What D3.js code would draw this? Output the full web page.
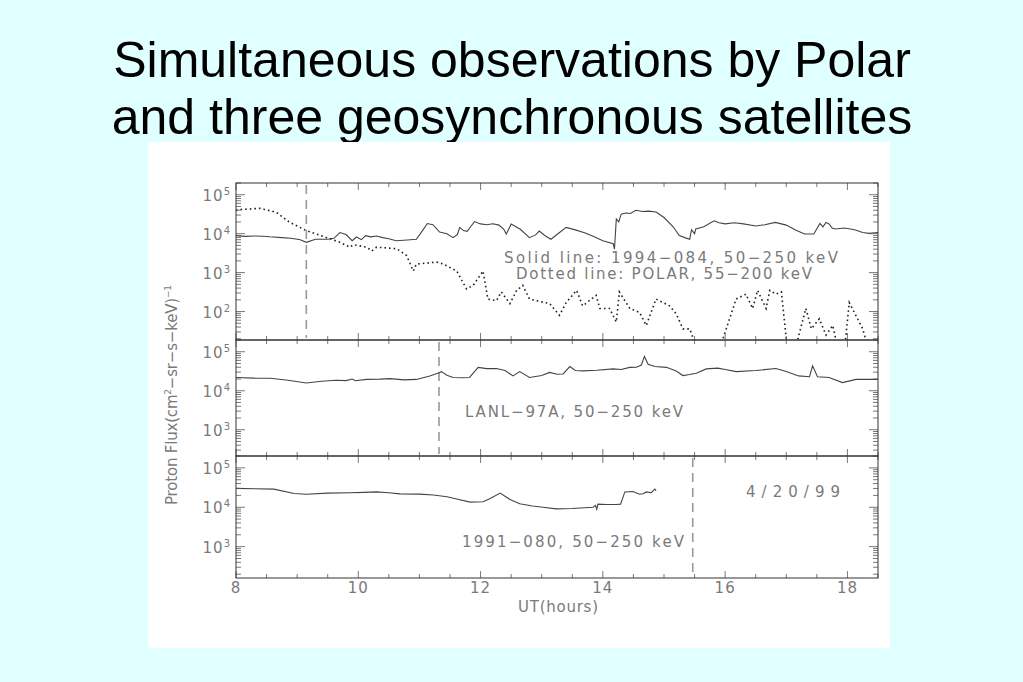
<!DOCTYPE html>
<html><head><meta charset="utf-8">
<script src="https://cdn.jsdelivr.net/npm/d3@7"></script>
<style>
html,body{margin:0;padding:0;background:#e0ffff;}
svg{display:block;}
</style></head>
<body>
<svg id="c" width="1023" height="682"></svg>
<script>
// ---- data ----
const titleLines = ["Simultaneous observations by Polar", "and three geosynchronous satellites"];
const xTicks = [8, 10, 12, 14, 16, 18];

// Top panel: 1994-084 solid (50-250 keV)
const hrs1994 = [8.0,8.15,8.3,8.45,8.55,8.75,8.9,9.05,9.15,9.3,9.5,9.6,9.7,9.8,9.9,9.97,10.05,10.12,10.2,10.3,10.4,10.5,10.62,10.8,10.95,11.05,11.13,11.22,11.33,11.45,11.55,11.62,11.66,11.72,11.78,11.85,11.9,12.0,12.1,12.2,12.3,12.38,12.42,12.47,12.5,12.65,12.8,12.9,12.96,13.05,13.15,13.25,13.4,13.55,13.7,13.85,14.0,14.17,14.19,14.22,14.26,14.3,14.38,14.45,14.54,14.65,14.75,14.87,15.0,15.15,15.25,15.35,15.42,15.45,15.5,15.52,15.65,15.82,15.9,16.0,16.15,16.3,16.5,16.65,16.82,17.0,17.15,17.3,17.45,17.55,17.6,17.65,17.7,17.75,17.8,17.95,18.05,18.13,18.25,18.35,18.5];
const flux1994 = [8900,8500,8700,8600,8300,7900,7600,7000,6000,7200,7200,7600,10700,9500,6600,8200,7000,8900,8300,8700,7900,7400,6600,6900,7200,12000,18200,17000,11000,10000,7900,9500,14500,12000,11500,16000,20400,17800,17000,18000,16600,13000,9800,14000,17800,13000,7900,9300,11700,9000,7200,9500,14500,12500,10500,8500,6600,5500,4000,24000,20000,31600,34000,33000,39800,37000,38000,36000,26000,15000,8900,7800,7200,12600,10000,13200,15000,21400,19000,17800,19000,17800,15800,17000,19500,16600,12500,9800,9800,18200,15000,19500,17800,14000,13200,14000,13200,12400,10700,10200,10700];

// Top panel: POLAR dotted (55-200 keV)
const hrsPolar = [8.0,8.07,8.39,8.66,8.88,9.15,9.48,9.70,9.86,9.92,10.14,10.22,10.30,10.63,10.79,10.90,10.95,11.28,11.39,11.61,11.77,11.88,12.04,12.12,12.26,12.34,12.48,12.59,12.69,12.8,12.91,13.13,13.29,13.4,13.57,13.67,13.89,13.95,14.11,14.22,14.27,14.44,14.6,14.71,14.87,15.09,15.2,15.31,15.42,15.55,15.9,16.18,16.34,16.45,16.53,16.67,16.73,16.83,16.92,17.02,17.14,17.32,17.41,17.54,17.65,17.76,17.85,17.95,18.03,18.25,18.35];
const fluxPolar = [40000,41700,44700,35500,19500,12000,7900,6000,4500,5200,4500,3600,4500,4100,2750,1100,1660,1860,1660,1100,380,470,1100,210,190,320,160,350,470,210,190,160,80,170,350,140,260,120,120,54,320,120,95,44,210,140,87,36,36,10,10,210,280,120,350,120,350,280,320,10,10,120,36,65,25,44,10,10,170,36,10];

// Middle panel: LANL-97A (50-250 keV)
const hrsLanl = [8.0,8.3,8.56,8.85,9.15,9.4,9.64,9.8,9.9,9.95,10.14,10.35,10.52,10.75,10.95,11.17,11.3,11.36,11.45,11.55,11.7,11.82,11.96,12.1,12.26,12.4,12.53,12.64,12.8,13.0,13.13,13.25,13.35,13.46,13.55,13.67,13.9,14.17,14.3,14.44,14.55,14.63,14.68,14.74,14.85,15.04,15.2,15.31,15.42,15.53,15.69,15.88,16.0,16.18,16.5,16.83,17.0,17.2,17.38,17.43,17.51,17.7,17.92,18.14,18.5];
const fluxLanl = [21900,21000,20900,18500,15800,17500,18600,18200,20000,18000,19500,19800,20400,19000,19500,24000,28000,30900,25000,21900,21500,21900,39800,37000,37200,33000,24000,30900,21900,24500,29500,26500,26900,41700,33000,32400,33500,36300,35000,39800,40000,45700,75900,47900,42000,39800,32000,24500,26000,28200,36300,38000,35000,30900,33000,37200,31000,24000,22900,43700,22900,21900,16200,19500,19500];

// Bottom panel: 1991-080 (50-250 keV)
const hrs1991 = [8.0,8.3,8.62,8.95,9.15,9.5,9.86,10.1,10.3,10.5,10.68,11.0,11.23,11.45,11.61,11.83,12.04,12.15,12.32,12.48,12.64,12.85,13.02,13.24,13.5,13.84,13.88,13.9,13.92,14.06,14.22,14.29,14.36,14.49,14.6,14.66,14.71,14.79,14.85,14.87];
const flux1991 = [30200,29500,28800,22400,21400,22800,23400,23900,24500,23400,21900,21500,20400,18500,16200,13500,13800,16500,22900,15800,12300,10800,10000,9100,9300,10000,11200,8900,12000,11700,11700,12000,24500,25100,21400,22000,24500,23400,28800,26300];

// event markers (dashed verticals), hours
const markerHrs = [9.15, 11.32, 15.47];

// ---- drawing ----
const svg = d3.select("#c");
const gray = "#7a7a7a";
const font = "'Liberation Sans', Arial, sans-serif";
const afont = "'DejaVu Sans', sans-serif";

svg.selectAll("text.title").data(titleLines).enter().append("text")
  .attr("x", 512).attr("y", (d,i)=>77+i*57)
  .attr("text-anchor","middle").attr("font-family",font).attr("font-size",50)
  .attr("fill","#000").text(d=>d);

svg.append("rect").attr("x",148).attr("y",142).attr("width",742).attr("height",506).attr("fill","#fff");

const x = d3.scaleLinear().domain([8,18.5]).range([236,878]);

const panels = [
  {top:183, bottom:340, dom:[18.6,2.0e5], decades:[2,3,4,5],
   series:[{h:hrs1994,f:flux1994,dash:null},{h:hrsPolar,f:fluxPolar,dash:"1.6,3"}], marker:markerHrs[0]},
  {top:340, bottom:456, dom:[212,2.0e5], decades:[3,4,5],
   series:[{h:hrsLanl,f:fluxLanl,dash:null}], marker:markerHrs[1]},
  {top:456, bottom:578, dom:[160,2.0e5], decades:[3,4,5],
   series:[{h:hrs1991,f:flux1991,dash:null}], marker:markerHrs[2]}
];

panels.forEach((p,pi)=>{
  const y = d3.scaleLog().domain(p.dom).range([p.bottom,p.top]);
  const g = svg.append("g");
  const cid = "clip"+pi;
  svg.append("clipPath").attr("id",cid).append("rect")
    .attr("x",x(8)).attr("y",p.top).attr("width",x(18.5)-x(8)).attr("height",p.bottom-p.top);

  g.append("line").attr("x1",x(p.marker)).attr("x2",x(p.marker))
    .attr("y1",p.top+2).attr("y2",p.bottom-2)
    .attr("stroke","#999").attr("stroke-width",1.6).attr("stroke-dasharray","9,6");

  p.series.forEach(s=>{
    const data = s.h.map((h,i)=>[h,s.f[i]]);
    const line = d3.line().x(d=>x(d[0])).y(d=>y(d[1]));
    g.append("path").datum(data).attr("d",line).attr("fill","none")
      .attr("stroke", s.dash ? "#222" : "#444").attr("stroke-width", s.dash?1.6:1.1)
      .attr("stroke-dasharray", s.dash).attr("clip-path","url(#"+cid+")");
  });

  const lo = Math.floor(Math.log10(p.dom[0])), hi = Math.ceil(Math.log10(p.dom[1]));
  for(let e=lo;e<=hi;e++){
    for(let m=1;m<=9;m++){
      const v = m*Math.pow(10,e);
      if(v<p.dom[0]||v>p.dom[1]) continue;
      const yy = y(v), len = m===1?9:5;
      g.append("line").attr("x1",x(8)).attr("x2",x(8)+len).attr("y1",yy).attr("y2",yy).attr("stroke","#555").attr("stroke-width",0.8);
      g.append("line").attr("x1",x(18.5)).attr("x2",x(18.5)-len).attr("y1",yy).attr("y2",yy).attr("stroke","#555").attr("stroke-width",0.8);
    }
  }
  p.decades.forEach(e=>{
    const t = g.append("text").attr("x",230).attr("y",y(Math.pow(10,e))+6)
      .attr("text-anchor","end").attr("font-family",afont).attr("font-size",15).attr("fill",gray);
    t.append("tspan").text("10").attr("letter-spacing",1);
    t.append("tspan").text(String(e)).attr("font-size",10).attr("dy",-6);
  });
  d3.range(8,18.51,0.5).forEach(h=>{
    const major = Math.abs(h%2)<1e-6;
    const len = major?7:4;
    g.append("line").attr("x1",x(h)).attr("x2",x(h)).attr("y1",p.top).attr("y2",p.top+len).attr("stroke","#555").attr("stroke-width",0.8);
    g.append("line").attr("x1",x(h)).attr("x2",x(h)).attr("y1",p.bottom).attr("y2",p.bottom-len).attr("stroke","#555").attr("stroke-width",0.8);
  });
  g.append("rect").attr("x",x(8)).attr("y",p.top).attr("width",x(18.5)-x(8)).attr("height",p.bottom-p.top)
    .attr("fill","none").attr("stroke","#333").attr("stroke-width",1);
});

svg.selectAll("text.xt").data(xTicks).enter().append("text")
  .attr("x",d=>x(d)).attr("y",593).attr("text-anchor","middle")
  .attr("font-family",afont).attr("font-size",15).attr("fill",gray).attr("letter-spacing",1).text(d=>d);
svg.append("text").attr("x",558).attr("y",612).attr("font-family",afont).attr("font-size",15).attr("fill",gray)
  .attr("text-anchor","middle").attr("textLength",80).attr("lengthAdjust","spacing").text("UT(hours)");

const yt = svg.append("text").attr("transform","translate(177,395) rotate(-90)")
  .attr("text-anchor","middle").attr("font-family",afont).attr("font-size",15).attr("fill",gray)
  .attr("textLength",220).attr("lengthAdjust","spacing");
yt.append("tspan").text("Proton Flux(cm");
yt.append("tspan").text("2").attr("font-size",9).attr("dy",-6);
yt.append("tspan").text("\u2212sr\u2212s\u2212keV)").attr("dy",6);
yt.append("tspan").text("\u22121").attr("font-size",9).attr("dy",-6);

function ann(txt, xl, yb, w){
  svg.append("text").attr("x",xl).attr("y",yb).attr("font-family",afont).attr("font-size",15)
    .attr("fill",gray).attr("textLength",w).attr("lengthAdjust","spacing").text(txt);
}
ann("Solid line: 1994\u2212084, 50\u2212250 keV", 504, 263, 334);
ann("Dotted line: POLAR, 55\u2212200 keV", 516, 279, 296);
ann("LANL\u221297A, 50\u2212250 keV", 465, 417, 218);
ann("1991\u2212080, 50\u2212250 keV", 462, 547, 222);
ann("4/20/99", 746, 497, 94);
</script>
</body></html>
